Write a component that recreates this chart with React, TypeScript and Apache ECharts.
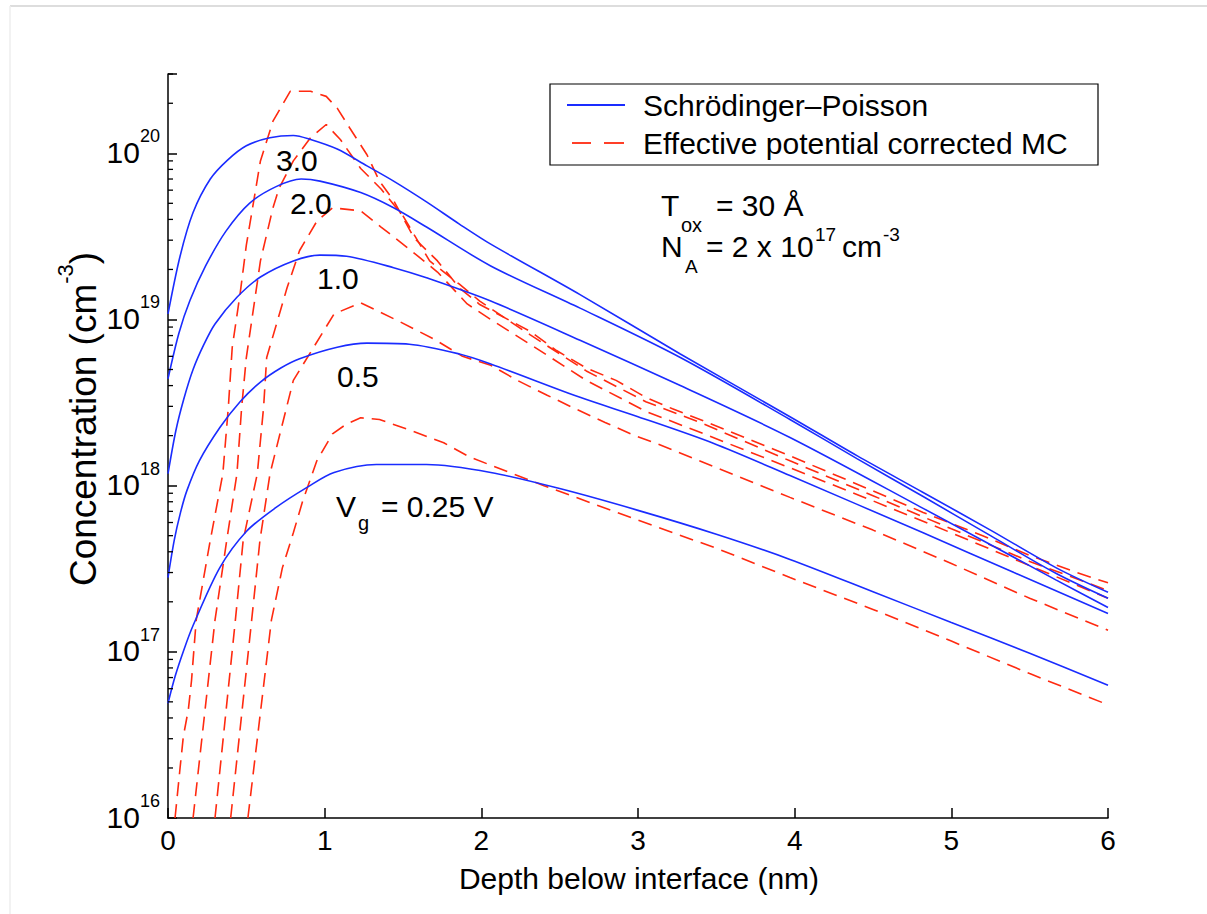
import React, { useEffect, useRef } from "react";
import * as echarts from "echarts";

const FONT = "'Liberation Sans', Arial, Helvetica, sans-serif";
const BLUE = "#1a2cff";
const RED = "#ff2a10";
const SP = "Schrödinger–Poisson";
const MC = "Effective potential corrected MC";

// x ticks (nm)
const xTicks = [0, 1, 2, 3, 4, 5, 6];

// Schrödinger–Poisson, Vg = 3.0 V
const sp30X = [0, 0.077, 0.16, 0.27, 0.38, 0.5, 0.65, 0.8, 0.91, 1.08, 1.27, 1.44, 1.65, 1.86, 2.06, 2.63, 3.27, 3.97, 4.4, 4.82, 5.25, 5.67, 6];
const sp30Y = [1.08e19, 2.4e19, 4.4e19, 7.0e19, 9.1e19, 1.11e20, 1.24e20, 1.28e20, 1.21e20, 1.06e20, 8.4e19, 6.8e19, 5.1e19, 3.75e19, 2.84e19, 1.41e19, 6.2e18, 2.6e18, 1.51e18, 9.1e17, 5.4e17, 3.2e17, 2.28e17];
// Vg = 2.0 V
const sp20X = [0, 0.07, 0.14, 0.24, 0.37, 0.52, 0.69, 0.85, 0.97, 1.23, 1.44, 1.65, 2.06, 2.63, 3.27, 3.97, 4.4, 4.82, 5.25, 5.67, 6];
const sp20Y = [4.4e18, 8.3e18, 1.3e19, 2.1e19, 3.4e19, 5.0e19, 6.3e19, 7.0e19, 6.8e19, 5.8e19, 4.7e19, 3.6e19, 2.1e19, 1.17e19, 5.9e18, 2.5e18, 1.45e18, 8.6e17, 5.0e17, 2.96e17, 2.1e17];
// Vg = 1.0 V
const sp10X = [0, 0.05, 0.1, 0.16, 0.23, 0.3, 0.44, 0.59, 0.8, 0.97, 1.14, 1.44, 1.65, 2.06, 2.63, 3.27, 3.97, 4.82, 5.67, 6];
const sp10Y = [1.18e18, 2.14e18, 3.3e18, 5.0e18, 7.1e18, 9.4e18, 1.36e19, 1.8e19, 2.25e19, 2.44e19, 2.4e19, 2.05e19, 1.78e19, 1.29e19, 7.5e18, 4.0e18, 1.95e18, 7.3e17, 2.7e17, 1.85e17];
// Vg = 0.5 V
const sp05X = [0, 0.04, 0.08, 0.12, 0.2, 0.33, 0.46, 0.59, 0.72, 0.84, 1.08, 1.27, 1.54, 1.86, 2.06, 2.63, 3.0, 3.48, 3.97, 4.82, 5.4, 6];
const sp05Y = [2.8e17, 4.7e17, 6.9e17, 9.3e17, 1.41e18, 2.23e18, 3.2e18, 4.2e18, 5.1e18, 5.8e18, 6.8e18, 7.2e18, 7.1e18, 6.2e18, 5.4e18, 3.4e18, 2.6e18, 1.8e18, 1.15e18, 5.2e17, 3.0e17, 1.7e17];
// Vg = 0.25 V
const sp025X = [0, 0.045, 0.1, 0.16, 0.33, 0.5, 0.69, 0.89, 1.06, 1.33, 1.65, 2.06, 2.5, 3.0, 3.5, 3.97, 4.5, 5.0, 5.5, 6];
const sp025Y = [4.9e16, 7.1e16, 1.02e17, 1.44e17, 3.2e17, 5.3e17, 7.4e17, 9.8e17, 1.2e18, 1.34e18, 1.34e18, 1.2e18, 9.6e17, 7.1e17, 5.1e17, 3.6e17, 2.3e17, 1.5e17, 9.8e16, 6.3e16];

// Effective potential corrected MC, Vg = 3.0 V
const mc30X = [0.045, 0.077, 0.098, 0.13, 0.15, 0.18, 0.27, 0.35, 0.385, 0.41, 0.46, 0.5, 0.59, 0.67, 0.78, 0.91, 1.01, 1.08, 1.16, 1.27, 1.35, 1.44, 1.57, 1.72, 1.86, 1.99, 2.31, 2.48, 2.67, 2.86, 3.05, 3.22, 3.42, 3.97, 4.5, 4.82, 5.2, 5.5, 5.8, 6];
const mc30Y = [1.0e16, 2.0e16, 3.1e16, 4.5e16, 6.7e16, 1.55e17, 4.7e17, 1.18e18, 2.95e18, 6.8e18, 1.42e19, 2.8e19, 9.0e19, 1.56e20, 2.36e20, 2.36e20, 2.2e20, 1.87e20, 1.42e20, 9.8e19, 6.8e19, 5.2e19, 3.1e19, 2.25e19, 1.55e19, 1.23e19, 8.5e18, 6.5e18, 5.1e18, 4.3e18, 3.4e18, 2.9e18, 2.45e18, 1.51e18, 9.3e17, 6.9e17, 5.0e17, 3.8e17, 3.0e17, 2.6e17];
// Vg = 2.0 V
const mc20X = [0.16, 0.3, 0.375, 0.44, 0.47, 0.5, 0.59, 0.67, 0.71, 0.8, 0.91, 1.01, 1.1, 1.23, 1.36, 1.5, 1.67, 1.86, 1.99, 2.31, 2.67, 3.05, 3.42, 3.97, 4.5, 5.0, 5.5, 6];
const mc20Y = [1.0e16, 1.55e17, 4.7e17, 1.18e18, 2.95e18, 5.9e18, 2.25e19, 4.7e19, 6.2e19, 9.0e19, 1.24e20, 1.49e20, 1.21e20, 8.1e19, 6.1e19, 4.2e19, 2.25e19, 1.63e19, 1.29e19, 8.1e18, 4.9e18, 3.2e18, 2.35e18, 1.41e18, 8.7e17, 5.5e17, 3.5e17, 2.34e17];
// Vg = 1.0 V
const mc10X = [0.3, 0.43, 0.48, 0.57, 0.61, 0.63, 0.76, 0.84, 0.95, 1.05, 1.23, 1.36, 1.54, 1.72, 1.91, 2.06, 2.31, 2.67, 3.05, 3.42, 3.97, 4.5, 5.0, 5.5, 6];
const mc10Y = [1.0e16, 1.55e17, 4.7e17, 1.18e18, 2.95e18, 5.9e18, 1.55e19, 2.6e19, 3.9e19, 4.7e19, 4.5e19, 3.6e19, 2.65e19, 1.93e19, 1.24e19, 1.0e19, 7.1e18, 4.3e18, 2.8e18, 2.05e18, 1.28e18, 8.1e17, 5.2e17, 3.3e17, 2.1e17];
// Vg = 0.5 V
const mc05X = [0.4, 0.534, 0.587, 0.651, 0.8, 1.06, 1.23, 1.47, 1.7, 1.88, 2.06, 2.23, 2.42, 2.6, 2.79, 2.98, 3.12, 3.97, 4.5, 5.0, 5.5, 6];
const mc05Y = [1.0e16, 1.55e17, 4.7e17, 1.18e18, 4.3e18, 1.08e19, 1.26e19, 9.8e18, 7.6e18, 6.0e18, 5.3e18, 4.3e18, 3.5e18, 2.9e18, 2.4e18, 2.0e18, 1.79e18, 8.5e17, 5.4e17, 3.4e17, 2.1e17, 1.35e17];
// Vg = 0.25 V
const mc025X = [0.51, 0.66, 0.73, 0.8, 0.86, 0.95, 1.05, 1.14, 1.23, 1.35, 1.55, 1.76, 1.93, 2.4, 3.0, 3.5, 3.97, 4.5, 5.0, 5.5, 6];
const mc025Y = [1.0e16, 1.55e17, 3.2e17, 5.2e17, 8.1e17, 1.41e18, 2.05e18, 2.35e18, 2.56e18, 2.5e18, 2.15e18, 1.81e18, 1.48e18, 1.0e18, 6.2e17, 4.2e17, 2.8e17, 1.8e17, 1.16e17, 7.4e16, 4.8e16];

// minor ticks of the log axis (2..9 within each decade, plus 2e20, 3e20)
const minorDecades = [16, 17, 18, 19];
const minorMantissas = [2, 3, 4, 5, 6, 7, 8, 9];
const minorTop = [2e20, 3e20];

const spSeries = [
  { x: sp30X, y: sp30Y },
  { x: sp20X, y: sp20Y },
  { x: sp10X, y: sp10Y },
  { x: sp05X, y: sp05Y },
  { x: sp025X, y: sp025Y },
];
const mcSeries = [
  { x: mc30X, y: mc30Y },
  { x: mc20X, y: mc20Y },
  { x: mc10X, y: mc10Y },
  { x: mc05X, y: mc05Y },
  { x: mc025X, y: mc025Y },
];

function txt(text: string, x: number, y: number, size: number, extra: any = {}) {
  return {
    type: "text",
    x,
    y,
    silent: true,
    z: 10,
    style: {
      text,
      fill: "#000",
      font: `${size}px ${FONT}`,
      textAlign: "left",
      textVerticalAlign: "middle",
      ...extra,
    },
  };
}

function seg(x1: number, y1: number, x2: number, y2: number, stroke: string, w: number) {
  return { type: "line", silent: true, z: 11, shape: { x1, y1, x2, y2 }, style: { stroke, lineWidth: w } };
}

export default function App() {
  const ref = useRef<HTMLDivElement>(null);
  useEffect(() => {
    if (!ref.current) return;
    const chart = echarts.init(ref.current, undefined, { renderer: "svg" });

    const minorVals: number[] = [];
    minorDecades.forEach((d) => minorMantissas.forEach((m) => minorVals.push(m * Math.pow(10, d))));
    minorTop.forEach((v) => minorVals.push(v));

    const series: any[] = [];
    spSeries.forEach((s) => {
      series.push({
        type: "line",
        name: SP,
        data: s.x.map((x, i) => [x, s.y[i]]),
        symbol: "none",
        smooth: 0.3,
        clip: true,
        lineStyle: { color: BLUE, width: 1.6 },
        itemStyle: { color: BLUE },
        z: 3,
      });
    });
    mcSeries.forEach((s) => {
      series.push({
        type: "line",
        name: MC,
        data: s.x.map((x, i) => [x, s.y[i]]),
        symbol: "none",
        clip: true,
        lineStyle: { color: RED, width: 1.6, type: [14, 8] },
        itemStyle: { color: RED },
        z: 2,
      });
    });
    series.push({
      type: "custom",
      silent: true,
      data: minorVals.map((v) => [0, v]),
      renderItem: (params: any, api: any) => {
        const p = api.coord([0, api.value(1)]);
        return {
          type: "line",
          shape: { x1: p[0], y1: p[1], x2: p[0] + 5, y2: p[1] },
          style: { stroke: "#000", lineWidth: 1.3 },
        };
      },
      z: 5,
    });

    chart.setOption({
      animation: false,
      backgroundColor: "#fff",
      grid: { left: 168, top: 74, right: 99, bottom: 96 },
      xAxis: {
        type: "value",
        min: xTicks[0],
        max: xTicks[xTicks.length - 1],
        interval: 1,
        axisLine: { lineStyle: { color: "#000", width: 1.5 } },
        axisTick: { inside: true, length: 10, lineStyle: { color: "#000", width: 1.5 } },
        axisLabel: { color: "#000", fontSize: 28, fontFamily: FONT, margin: 8 },
        splitLine: { show: false },
      },
      yAxis: {
        type: "log",
        logBase: 10,
        min: 1e16,
        max: 3e20,
        axisLine: { show: true, lineStyle: { color: "#000", width: 1.5 } },
        axisTick: { show: true, inside: true, length: 9, lineStyle: { color: "#000", width: 1.5 } },
        minorTick: { show: false },
        splitLine: { show: false },
        axisLabel: {
          margin: 8,
          padding: [0, 0, 12, 0],
          formatter: (v: number) => {
            const e = Math.log10(v);
            const r = Math.round(e);
            if (Math.abs(e - r) > 1e-6) return "";
            return `{b|10}{s|${r}}`;
          },
          rich: {
            b: { fontSize: 30, lineHeight: 40, verticalAlign: "bottom", color: "#000", fontFamily: FONT },
            s: { fontSize: 18, lineHeight: 18, verticalAlign: "top", color: "#000", fontFamily: FONT },
          },
        },
      },
      graphic: [
        { type: "line", silent: true, shape: { x1: 10, y1: 6, x2: 1207, y2: 6 }, style: { stroke: "#dddddd", lineWidth: 2 } },
        { type: "line", silent: true, shape: { x1: 10, y1: 6, x2: 10, y2: 914 }, style: { stroke: "#eeeeee", lineWidth: 1.5 } },
        // legend box
        {
          type: "rect",
          silent: true,
          z: 9,
          shape: { x: 550, y: 84, width: 548, height: 81 },
          style: { fill: "#fff", stroke: "#000", lineWidth: 1.2 },
        },
        seg(567, 105, 625, 105, BLUE, 1.8),
        seg(572, 143, 591, 143, RED, 1.8),
        seg(604, 143, 624, 143, RED, 1.8),
        txt(SP, 643, 105, 30),
        txt(MC, 643, 143, 30),
        // curve labels
        txt("3.0", 276, 160, 30),
        txt("2.0", 290, 203, 30),
        txt("1.0", 317, 278, 30),
        txt("0.5", 337, 376, 30),
        txt("V", 336, 506, 30),
        txt("g", 358, 523, 20),
        txt("= 0.25 V", 381, 506, 30),
        // parameters
        txt("T", 661, 205, 30),
        txt("ox", 681, 225, 20),
        txt("= 30 Å", 716, 205, 30),
        txt("N", 661, 246, 30),
        txt("A", 685, 266, 19),
        txt("= 2 x 10", 706, 246, 30),
        txt("17", 815, 234, 19),
        txt("cm", 842, 246, 30),
        txt("-3", 883, 234, 19),
        {
          type: "text",
          silent: true,
          x: 78,
          y: 419,
          rotation: Math.PI / 2,
          style: {
            text: "{a|Concentration (cm}{s|-3}{a|)}",
            textAlign: "center",
            textVerticalAlign: "middle",
            rich: {
              a: { fontSize: 37, lineHeight: 48, verticalAlign: "bottom", fill: "#000", fontFamily: FONT },
              s: { fontSize: 22, lineHeight: 22, verticalAlign: "top", fill: "#000", fontFamily: FONT },
            },
          },
        },
        txt("Depth below interface (nm)", 639, 878, 30, { textAlign: "center" }),
      ],
      series,
    });
    return () => chart.dispose();
  }, []);
  return (
    <div
      ref={ref}
      style={{ position: "absolute", left: 0, top: 0, width: 1207, height: 914, background: "#fff" }}
    />
  );
}
